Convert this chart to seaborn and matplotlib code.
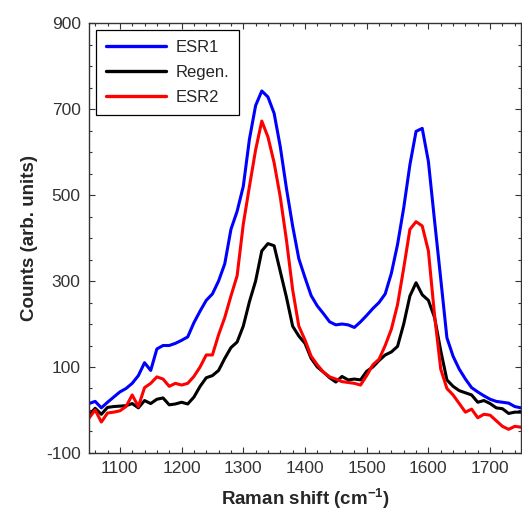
import numpy as np
import pandas as pd
import seaborn as sns
import matplotlib.pyplot as plt
from matplotlib.ticker import FixedLocator, MultipleLocator

# Raman shift grid (cm-1)
shift = list(range(1050, 1751, 10))

# Counts
esr1 = [15, 20, 5, 18, 30, 42, 50, 62, 80, 110, 92, 142, 150, 150, 155, 162, 170, 203, 230, 255,
        270, 300, 340, 420, 462, 520, 630, 708, 742, 728, 690, 612, 515, 428, 352, 308, 266, 242, 224, 205,
        198, 200, 198, 192, 205, 220, 236, 250, 270, 318, 385, 470, 570, 648, 655, 578, 440, 305, 168, 125,
        95, 72, 52, 42, 33, 25, 20, 18, 16, 8, 5]
regen = [-12, 4, -10, 6, 8, 9, 10, 15, 5, 22, 15, 25, 28, 12, 14, 18, 14, 30, 55, 75,
         80, 92, 120, 145, 158, 195, 252, 300, 370, 387, 382, 322, 262, 195, 172, 155, 120, 100, 88, 75,
         65, 78, 70, 72, 70, 90, 100, 115, 128, 135, 148, 200, 265, 296, 268, 255, 215, 138, 70, 55,
         45, 40, 35, 18, 22, 15, 5, 3, -8, -5, -5]
esr2 = [-19, 0, -28, -7, -5, -2, 8, 35, 8, 52, 62, 77, 72, 55, 62, 58, 62, 78, 100, 128,
        128, 175, 215, 265, 312, 432, 520, 605, 672, 635, 575, 495, 395, 280, 195, 163, 125, 105, 88, 77,
        72, 66, 64, 62, 58, 80, 105, 118, 150, 188, 245, 330, 420, 438, 428, 370, 220, 95, 50, 35,
        15, -5, 2, -18, -10, -12, -25, -38, -45, -38, -40]

series = ["ESR1", "Regen.", "ESR2"]
colors = ["#0000ff", "#000000", "#ff0000"]

xticks = [1100, 1200, 1300, 1400, 1500, 1600, 1700]
yticks = [-100, 100, 300, 500, 700, 900]

df = pd.DataFrame({
    "shift": shift * 3,
    "counts": esr1 + regen + esr2,
    "sample": ["ESR1"] * len(shift) + ["Regen."] * len(shift) + ["ESR2"] * len(shift),
})

sns.set_style("ticks")
plt.rcParams["font.family"] = ["Liberation Sans", "DejaVu Sans"]
plt.rcParams["axes.unicode_minus"] = False
plt.rcParams["mathtext.fontset"] = "custom"
plt.rcParams["mathtext.bf"] = "Liberation Sans:bold"
plt.rcParams["mathtext.rm"] = "Liberation Sans"

fig = plt.figure(figsize=(5.22, 5.15), dpi=100)
ax = fig.add_axes([0.1705, 0.1204, 0.8275, 0.8349])

sns.lineplot(data=df, x="shift", y="counts", hue="sample", hue_order=series,
             palette=colors, linewidth=2.2, ax=ax, sort=False)

ax.set_xlim(1050, 1750)
ax.set_ylim(-100, 900)
ax.xaxis.set_major_locator(FixedLocator(xticks))
ax.xaxis.set_minor_locator(MultipleLocator(20))
ax.yaxis.set_major_locator(FixedLocator(yticks))
ax.yaxis.set_minor_locator(MultipleLocator(50))
ax.tick_params(which="both", direction="in", top=True, right=True,
               colors="#333333", labelsize=12.5, width=0.8)
ax.tick_params(which="major", length=4, pad=6)
ax.tick_params(which="minor", length=2.5)
for sp in ax.spines.values():
    sp.set_color("#333333")
    sp.set_linewidth(1.0)

ax.set_xlabel(r"Raman shift (cm$^{\mathbf{-1}}$)", fontsize=13.5, fontweight="bold", labelpad=7)
ax.set_ylabel("Counts (arb. units)", fontsize=13.5, fontweight="bold", labelpad=6)

leg = ax.legend(loc="upper left", fontsize=12, frameon=True, fancybox=False,
                edgecolor="black", framealpha=1, handlelength=3.6, labelspacing=0.6,
                borderaxespad=0.4, borderpad=0.6, handletextpad=0.6)
leg.get_frame().set_linewidth(0.9)
for line in leg.get_lines():
    line.set_linewidth(2.4)

fig.savefig("out.png", dpi=100)
